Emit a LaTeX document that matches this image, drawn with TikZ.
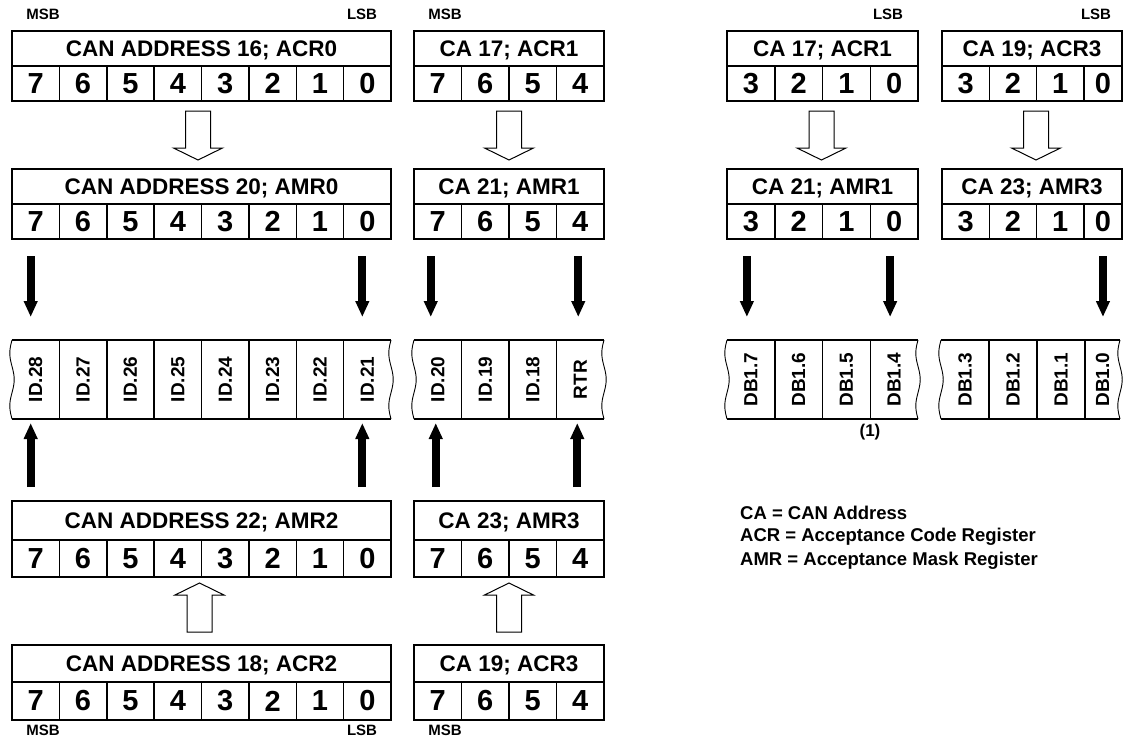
\documentclass[tikz,border=0pt]{standalone}
\usepackage{fontspec}
\setmainfont{Liberation Sans}
\usetikzlibrary{arrows.meta,calc}
% register: name, left x, top y, title h, row h, total width, cell width, title, bits
\newcommand\regbox[9]{%
  \node[ttl, minimum width=#6pt, minimum height=#4pt] (#1) at (#2,#3) {#8};%
  \foreach \b [count=\i from 0] in {#9} {%
    \pgfmathsetmacro\cx{#2+\i*#7}%
    \pgfmathsetmacro\cw{min(#7,#2+#6-\cx)}%
    \node[bit, minimum width=\cw pt, minimum height=#5pt] (#1-\b) at ({\cx},{#3+#4}) {\b};%
  }%
}
% field row: prefix, left x, cell width, right x, labels
\newcommand\fieldrow[5]{%
  \foreach \lab [count=\i from 0] in {#5} {%
    \pgfmathsetmacro\cx{#2+\i*#3}%
    \pgfmathsetmacro\cw{min(#3,#4-\cx)}%
    \node[fld, minimum width=\cw pt, minimum height=79pt] (#1\i) at ({\cx},340) {\rotatebox{90}{\lab}};%
    \ifnum\i>0 \draw[edge] (#1\i.north west) -- (#1\i.south west);\fi
  }%
  \draw[edge] (#2,340) -- (#4,340) (#2,419) -- (#4,419);%
  \draw[wavy] plot[domain=0:1, samples=31, smooth, variable=\s] ({#2-2.2*sin(540*\s)},{340+79*\s});%
  \draw[wavy] plot[domain=0:1, samples=31, smooth, variable=\s] ({#4-2.2*sin(540*\s)},{340+79*\s});%
}
% hollow arrow: start coordinate (tail centre), direction (1 down, -1 up)
\newcommand\harrow[2]{%
  \draw[hollow] #1 ++(-12.5,0) -- ++(25,0) -- ++(0,{(#2)*37}) -- ++(12,0) -- ++(-24.5,{(#2)*12}) -- ++(-24.5,{-(#2)*12}) -- ++(12,0) -- cycle;%
}
\begin{document}
\begin{tikzpicture}[x=1pt,y=-1pt,
  box/.style={draw, line width=1.5pt, inner sep=0pt, outer sep=0pt, anchor=north west},
  ttl/.style={box, font=\fontsize{22.5}{22.5}\selectfont\bfseries, text height=16pt, text depth=0pt},
  bit/.style={box, font=\fontsize{29}{29}\selectfont\bfseries},
  fld/.style={inner sep=0pt, outer sep=0pt, anchor=north west, font=\fontsize{19}{19}\selectfont\bfseries},
  lbl/.style={font=\fontsize{15}{15}\selectfont\bfseries, inner sep=0pt},
  leg/.style={font=\fontsize{18.5}{18.5}\selectfont\bfseries, anchor=west, inner sep=0pt},
  fat/.style={line width=8pt, -{Triangle[length=16pt 0, width=13pt 0]}},
  hollow/.style={draw, line width=1pt, fill=white, line join=miter},
  edge/.style={line width=1.5pt},
  wavy/.style={line width=0.9pt}
]
\useasboundingbox (0,0) rectangle (1126,740);

% top row
\regbox{acr0}{12}{31}{35}{35}{379}{47.375}{CAN ADDRESS 16; ACR0}{7,6,5,4,3,2,1,0}
\regbox{acra}{414}{31}{35}{35}{190}{47.5}{CA 17; ACR1}{7,6,5,4}
\regbox{acrb}{727}{31}{35}{35}{191}{47.75}{CA 17; ACR1}{3,2,1,0}
\regbox{acrc}{942}{31}{35}{35}{180}{47.3}{CA 19; ACR3}{3,2,1,0}
% second row
\regbox{amr0}{12}{169}{35}{35}{379}{47.375}{CAN ADDRESS 20; AMR0}{7,6,5,4,3,2,1,0}
\regbox{amra}{414}{169}{35}{35}{190}{47.5}{CA 21; AMR1}{7,6,5,4}
\regbox{amrb}{727}{169}{35}{35}{191}{47.75}{CA 21; AMR1}{3,2,1,0}
\regbox{amrc}{942}{169}{35}{35}{180}{47.3}{CA 23; AMR3}{3,2,1,0}
% lower rows
\regbox{amr2}{12}{501}{39}{37}{379}{47.375}{CAN ADDRESS 22; AMR2}{7,6,5,4,3,2,1,0}
\regbox{amrd}{414}{501}{39}{37}{190}{47.5}{CA 23; AMR3}{7,6,5,4}
\regbox{acr2}{12}{645}{37}{38}{379}{47.375}{CAN ADDRESS 18; ACR2}{7,6,5,4,3,2,1,0}
\regbox{acrd}{414}{645}{37}{38}{190}{47.5}{CA 19; ACR3}{7,6,5,4}

% field rows
\fieldrow{id}{12}{47.375}{391}{ID.28,ID.27,ID.26,ID.25,ID.24,ID.23,ID.22,ID.21}
\fieldrow{idm}{414}{47.5}{604}{ID.20,ID.19,ID.18,RTR}
\fieldrow{dba}{727}{47.75}{918}{DB1.7,DB1.6,DB1.5,DB1.4}
\fieldrow{dbb}{941}{48}{1120}{DB1.3,DB1.2,DB1.1,DB1.0}

% hollow arrows (tail 10pt below the register's bottom edge)
\harrow{($(acr0-4.south east)+(-3.5,10)$)}{1}
\harrow{($(acra.south |- acra-7.south)+(0,10)$)}{1}
\harrow{($(acrb.south |- acrb-3.south)+(-1,10)$)}{1}
\harrow{($(acrc.south |- acrc-3.south)+(4,10)$)}{1}
\harrow{($(acr2.north)+(-2,-13)$)}{-1}
\harrow{($(acrd.north)+(0,-13)$)}{-1}

% solid arrows down
\draw[fat] ($(amr0-7.south)+(-5,17)$) -- ($(amr0-7.south |- id0.north)+(-5,-23)$);
\draw[fat] ($(amr0-0.south)+(-5,17)$) -- ($(amr0-0.south |- id7.north)+(-5,-23)$);
\draw[fat] ($(amra-7.south)+(-7,17)$) -- ($(amra-7.south |- idm0.north)+(-7,-23)$);
\draw[fat] ($(amra-4.south)+(-2,17)$) -- ($(amra-4.south |- idm3.north)+(-2,-23)$);
\draw[fat] ($(amrb-3.south)+(-4,17)$) -- ($(amrb-3.south |- dba0.north)+(-4,-23)$);
\draw[fat] ($(amrb-0.south)+(-4,17)$) -- ($(amrb-0.south |- dba3.north)+(-4,-23)$);
\draw[fat] ($(amrc-0.south)+(0,17)$) -- ($(amrc-0.south |- dbb3.north)+(0,-23)$);
% solid arrows up
\draw[fat] ($(amr2-7 |- amr2.north)+(-5,-14)$) -- ($(amr2-7 |- id0.south)+(-5,4)$);
\draw[fat] ($(amr2-0 |- amr2.north)+(-5,-14)$) -- ($(amr2-0 |- id7.south)+(-5,4)$);
\draw[fat] ($(amrd-7 |- amrd.north)+(-2,-14)$) -- ($(amrd-7 |- idm0.south)+(-2,4)$);
\draw[fat] ($(amrd-4 |- amrd.north)+(-3,-14)$) -- ($(amrd-4 |- idm3.south)+(-3,4)$);

% MSB / LSB labels
\node[lbl] (m1) at (43,14) {MSB};
\node[lbl] (l1) at (362,14) {LSB};
\node[lbl] (m2) at (445,14) {MSB};
\node[lbl] (l2) at (888,14) {LSB};
\node[lbl] (l3) at (1096,14) {LSB};
\node[lbl] (m3) at (43,730) {MSB};
\node[lbl] (l4) at (362,730) {LSB};
\node[lbl] (m4) at (445,730) {MSB};

\node[font=\fontsize{17}{17}\selectfont\bfseries, inner sep=0pt] (note) at (870,432) {(1)};

% legend
\node[leg] (lg1) at (740,513) {CA = CAN Address};
\node[leg] (lg2) at (740,537) {ACR = Acceptance Code Register};
\node[leg] (lg3) at (740,561) {AMR = Acceptance Mask Register};
\end{tikzpicture}
\end{document}
